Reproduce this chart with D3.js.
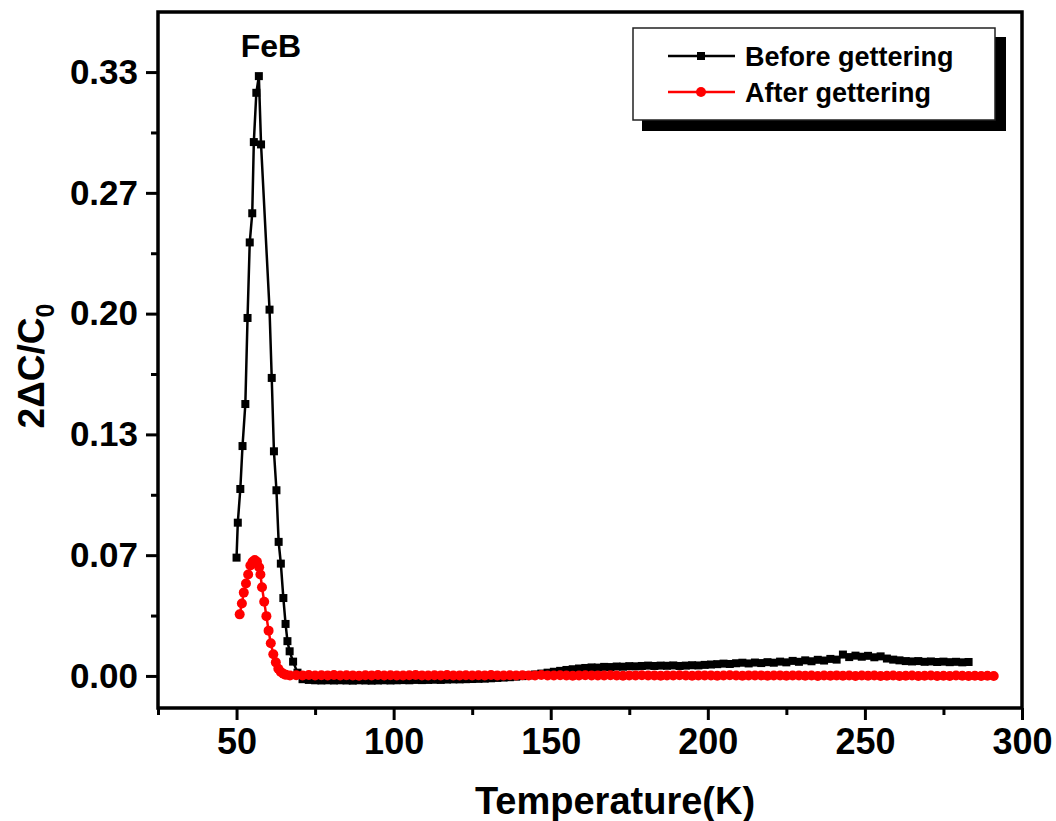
<!DOCTYPE html>
<html>
<head>
<meta charset="utf-8">
<script src="https://cdn.jsdelivr.net/npm/d3@7"></script>
<style>
  html, body { margin: 0; padding: 0; background: #fff; }
  svg { display: block; }
  text { font-family: "Liberation Sans", Arial, sans-serif; font-weight: bold; }
</style>
</head>
<body>
<svg id="chart" width="1056" height="821"></svg>
<script>
// ---------------- DATA ----------------
const beforeT = [50.0, 50.4, 51.2, 51.9, 52.8, 53.5, 54.2, 55.0, 55.5, 56.3, 57.1, 57.8, 60.5, 61.2, 61.9, 62.7, 63.4, 64.1, 64.9, 65.6, 66.2, 66.9, 68.0, 69.4, 71.0,
  73, 75, 77, 79, 81, 83, 85, 87, 89, 91, 93, 95, 97, 99, 101, 103, 105, 107, 109, 111, 113, 115, 117, 119,
  121, 123, 125, 127, 129, 131, 133, 135, 137, 139, 141, 143, 145, 147, 149, 151, 153, 155, 157, 159,
  161, 163, 165, 167, 169, 171, 173, 175, 177, 179, 181, 183, 185, 187, 189, 191, 193, 195, 197, 199,
  201, 203, 205, 207, 209, 211, 213, 215, 217, 219, 221, 223, 225, 227, 229, 231, 233, 235, 237, 239,
  241, 243, 245, 247, 249, 251, 253, 255, 257, 259, 261, 263, 265, 267, 269, 271, 273, 275, 277, 279, 281, 283];
const beforeV = [0.0653, 0.0846, 0.1032, 0.1269, 0.1501, 0.1976, 0.2393, 0.2554, 0.2947, 0.3219, 0.3311, 0.2934, 0.2022, 0.1645, 0.1240, 0.1025, 0.0740, 0.0620, 0.0430, 0.0287, 0.0192, 0.0136, 0.0079, 0.0018, -0.0018,
  -0.0022, -0.0024, -0.0025, -0.0024, -0.0025, -0.0024, -0.0025, -0.0026, -0.0024, -0.0025, -0.0026, -0.0025, -0.0024, -0.0025, -0.0024, -0.0023, -0.0024, -0.0022, -0.0023, -0.0022, -0.0021, -0.0022, -0.0020, -0.0019,
  -0.0019, -0.0018, -0.0017, -0.0016, -0.0015, -0.0013, -0.0011, -0.0009, -0.0007, -0.0004, -0.0001, 0.0003, 0.0008, 0.0013, 0.0018, 0.0023, 0.0028, 0.0033, 0.0037, 0.0041,
  0.0044, 0.0047, 0.0046, 0.0050, 0.0049, 0.0052, 0.0051, 0.0054, 0.0053, 0.0055, 0.0057, 0.0055, 0.0057, 0.0056, 0.0058, 0.0055, 0.0057, 0.0059, 0.0058, 0.0061,
  0.0063, 0.0065, 0.0068, 0.0066, 0.0070, 0.0073, 0.0069, 0.0074, 0.0071, 0.0076, 0.0073, 0.0079, 0.0075, 0.0083, 0.0078, 0.0086, 0.0081, 0.0089, 0.0085, 0.0094,
  0.0090, 0.0118, 0.0104, 0.0112, 0.0106, 0.0111, 0.0103, 0.0108, 0.0096, 0.0090, 0.0086, 0.0082, 0.0080, 0.0082, 0.0078, 0.0080, 0.0077, 0.0079, 0.0076, 0.0078, 0.0075, 0.0077];

const afterT = [51.0, 51.7, 52.3, 53.0, 53.7, 54.4, 55.1, 55.8, 56.5, 57.2, 57.6, 58.1, 58.8, 59.5, 60.2, 60.9, 61.7, 62.5, 63.3, 64.1, 64.9, 65.7,
  67, 69, 71, 73, 75, 77, 79, 81, 83, 85, 87, 89, 91, 93, 95, 97, 99, 101, 103, 105,
  107, 109, 111, 113, 115, 117, 119, 121, 123, 125, 127, 129, 131, 133, 135, 137, 139, 141, 143, 145,
  147, 149, 151, 153, 155, 157, 159, 161, 163, 165, 167, 169, 171, 173, 175, 177, 179, 181, 183, 185,
  187, 189, 191, 193, 195, 197, 199, 201, 203, 205, 207, 209, 211, 213, 215, 217, 219, 221, 223, 225,
  227, 229, 231, 233, 235, 237, 239, 241, 243, 245, 247, 249, 251, 253, 255, 257, 259, 261, 263, 265,
  267, 269, 271, 273, 275, 277, 279, 281, 283, 285, 287, 289, 291];
const afterV = [0.034, 0.040, 0.046, 0.051, 0.056, 0.061, 0.063, 0.064, 0.063, 0.060, 0.056, 0.049, 0.041, 0.033, 0.025, 0.018, 0.012, 0.0075, 0.0040, 0.0022, 0.0012, 0.0006,
  0.0002, 0.0004, 0.0003, 0.0005, 0.0002, 0.0004, 0.0003, 0.0005, 0.0002, 0.0004, 0.0003, 0.0001, 0.0004, 0.0003, 0.0005, 0.0002, 0.0004, 0.0003, 0.0002, 0.0004,
  0.0005, 0.0003, 0.0002, 0.0004, 0.0003, 0.0005, 0.0002, 0.0003, 0.0004, 0.0002, 0.0004, 0.0003, 0.0005, 0.0003, 0.0002, 0.0004, 0.0003, 0.0004, 0.0002, 0.0003,
  0.0005, 0.0003, 0.0002, 0.0004, 0.0003, 0.0001, 0.0003, 0.0004, 0.0002, 0.0003, 0.0002, 0.0004, 0.0003, 0.0001, 0.0003, 0.0002, 0.0004, 0.0002, 0.0003, 0.0001,
  0.0003, 0.0002, 0.0004, 0.0002, 0.0001, 0.0003, 0.0002, 0.0003, 0.0001, 0.0002, 0.0004, 0.0002, 0.0001, 0.0003, 0.0002, 0.0003, 0.0001, 0.0002, 0.0003, 0.0001,
  0.0002, 0.0003, 0.0001, 0.0002, 0.0000, 0.0002, 0.0001, 0.0003, 0.0001, 0.0002, 0.0000, 0.0002, 0.0001, 0.0002, 0.0000, 0.0001, 0.0002, 0.0000, 0.0001, 0.0002,
  0.0000, 0.0001, 0.0002, 0.0000, 0.0001, 0.0000, 0.0002, 0.0001, 0.0000, 0.0001, 0.0000, 0.0001, 0.0000];

const xMajorTicks = [50, 100, 150, 200, 250, 300];
const xMinorTicks = [25, 75, 125, 175, 225, 275];
const yMajorTicks = [0, 1/15, 2/15, 3/15, 4/15, 5/15];
const yMinorTicks = [0.5/15, 1.5/15, 2.5/15, 3.5/15, 4.5/15];
const seriesNames = ["Before gettering", "After gettering"];
const seriesColors = ["#000000", "#ff0000"];
const peakLabel = "FeB";
const xTitle = "Temperature(K)";

// ---------------- CHART ----------------
const svg = d3.select("#chart");
const L = 158, R = 1022, T = 12, B = 708;
const x = d3.scaleLinear().domain([25, 300]).range([L, R]);
const y = d3.scaleLinear().domain([-0.0177, 0.3665]).range([B, T]);

const before = beforeT.map((t, i) => ({t, v: beforeV[i]}));
const after = afterT.map((t, i) => ({t, v: afterV[i]}));

// Axes
const xAxisMajor = d3.axisBottom(x).tickValues(xMajorTicks).tickSize(12).tickPadding(8).tickFormat(d3.format("d"));
const xAxisMinor = d3.axisBottom(x).tickValues(xMinorTicks).tickSize(7).tickFormat("");
const yAxisMajor = d3.axisLeft(y).tickValues(yMajorTicks).tickSize(12).tickPadding(8).tickFormat(d3.format(".2f"));
const yAxisMinor = d3.axisLeft(y).tickValues(yMinorTicks).tickSize(7).tickFormat("");

function styleAxis(g) {
  g.select(".domain").remove();
  g.selectAll(".tick line").attr("stroke", "#000").attr("stroke-width", 3);
}
const gx = svg.append("g").attr("transform", `translate(0,${B})`).call(xAxisMajor).call(styleAxis);
gx.selectAll(".tick text").attr("font-size", 36).attr("font-family", "'Liberation Sans Narrow', 'Liberation Sans', Arial, sans-serif").attr("font-weight", "bold").attr("fill", "#000");
svg.append("g").attr("transform", `translate(0,${B})`).call(xAxisMinor).call(styleAxis);
const gy = svg.append("g").attr("transform", `translate(${L},0)`).call(yAxisMajor).call(styleAxis);
gy.selectAll(".tick text").attr("font-size", 35).attr("font-family", "'Liberation Sans', Arial, sans-serif").attr("font-weight", "bold").attr("fill", "#000");
svg.append("g").attr("transform", `translate(${L},0)`).call(yAxisMinor).call(styleAxis);

// Frame
svg.append("rect").attr("x", L).attr("y", T).attr("width", R - L).attr("height", B - T)
  .attr("fill", "none").attr("stroke", "#000").attr("stroke-width", 3.5);

// Lines
const line = d3.line().x(d => x(d.t)).y(d => y(d.v));
svg.append("path").datum(before).attr("d", line).attr("fill", "none").attr("stroke", seriesColors[0]).attr("stroke-width", 2.5);
svg.append("path").datum(after).attr("d", line).attr("fill", "none").attr("stroke", seriesColors[1]).attr("stroke-width", 2.5);

// Markers
const sq = 8;
svg.append("g").selectAll("rect").data(before).join("rect")
  .attr("x", d => x(d.t) - sq / 2).attr("y", d => y(d.v) - sq / 2)
  .attr("width", sq).attr("height", sq).attr("fill", seriesColors[0]);
svg.append("g").selectAll("circle").data(after).join("circle")
  .attr("cx", d => x(d.t)).attr("cy", d => y(d.v)).attr("r", 5).attr("fill", seriesColors[1]);

// Peak label
svg.append("text").attr("x", 271).attr("y", 57).attr("text-anchor", "middle")
  .attr("font-size", 32).attr("fill", "#000").text(peakLabel);

// Axis titles
svg.append("text").attr("x", 615).attr("y", 814).attr("text-anchor", "middle")
  .attr("font-size", 38).attr("font-family", "'Liberation Sans Narrow', 'Liberation Sans', Arial, sans-serif")
  .attr("fill", "#000").text(xTitle);
const yt = svg.append("text").attr("transform", "translate(44,366) rotate(-90)").attr("text-anchor", "middle")
  .attr("font-size", 37).attr("fill", "#000");
yt.append("tspan").text("2\u0394C/C");
yt.append("tspan").attr("font-size", 25).attr("dy", 10).text("0");

// Legend
const lg = svg.append("g");
lg.append("rect").attr("x", 642).attr("y", 37).attr("width", 364).attr("height", 94).attr("fill", "#000");
lg.append("rect").attr("x", 633).attr("y", 28).attr("width", 362).attr("height", 92).attr("fill", "#fff")
  .attr("stroke", "#222").attr("stroke-width", 1.5);
const rows = [56, 92];
seriesNames.forEach((name, i) => {
  const ry = rows[i];
  lg.append("line").attr("x1", 668).attr("x2", 735).attr("y1", ry).attr("y2", ry)
    .attr("stroke", seriesColors[i]).attr("stroke-width", 2.5);
  if (i === 0) {
    lg.append("rect").attr("x", 701 - sq / 2).attr("y", ry - sq / 2).attr("width", sq).attr("height", sq).attr("fill", seriesColors[i]);
  } else {
    lg.append("circle").attr("cx", 701).attr("cy", ry).attr("r", 5).attr("fill", seriesColors[i]);
  }
  lg.append("text").attr("x", 745).attr("y", ry).attr("dy", "0.36em").attr("font-size", 27)
    .attr("fill", "#000").text(name);
});
</script>
</body>
</html>
